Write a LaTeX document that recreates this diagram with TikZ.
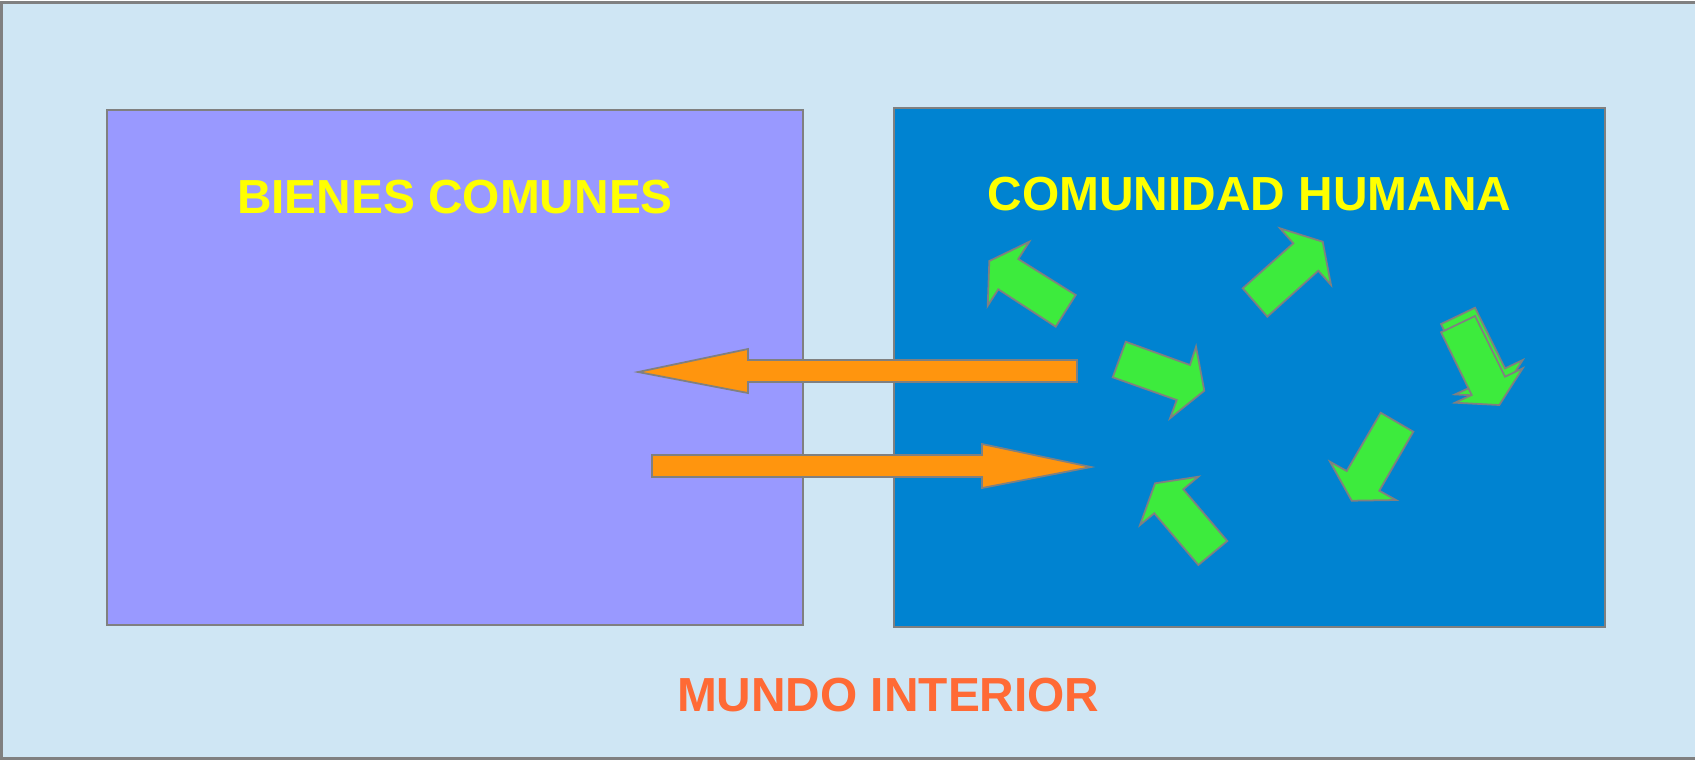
\documentclass[tikz,border=0pt]{standalone}
\usepackage{fontspec}
\setmainfont{Liberation Sans}
\usetikzlibrary{positioning}

\definecolor{fondo}{HTML}{CFE6F4}
\definecolor{lila}{HTML}{9999FF}
\definecolor{azul}{HTML}{0083D1}
\definecolor{verde}{HTML}{3DEB3D}
\definecolor{naranja}{HTML}{FF950E}
\definecolor{gris}{HTML}{808080}
\definecolor{amarillo}{HTML}{FFFF00}
\definecolor{rojizo}{HTML}{FF6A35}

\begin{document}
\begin{tikzpicture}[x=0.01cm, y=-0.01cm,
    caja/.style={draw=gris, line width=0.6pt},
    bloque/.style={draw=gris, line width=0.5pt, line join=miter},
    titulo/.style={font=\fontsize{13.6pt}{16pt}\selectfont\bfseries, inner sep=0pt}]

    \useasboundingbox (0,0) rectangle (1695,760);

    % Mundo interior
    \draw[caja, fill=fondo] (1.5,2.5) rectangle (1720,758.5);

    % Bienes comunes
    \draw[caja, fill=lila] (107,110) rectangle (803,625);

    % Comunidad humana
    \draw[caja, fill=azul] (894,108) rectangle (1605,627);

    % Orange arrows between both boxes
    \draw[bloque, fill=naranja] (638,372) -- (748,349) -- (748,360) -- (1077,360)
        -- (1077,382) -- (748,382) -- (748,393) -- cycle;
    \draw[bloque, fill=naranja] (1091,467) -- (982,488) -- (982,477) -- (652,477)
        -- (652,455) -- (982,455) -- (982,444) -- cycle;

    % Green arrows (people)
    \draw[bloque, fill=verde] (1029.3,241.7) -- (989.3,261) -- (987.7,305.7) -- (998.3,289.3)
        -- (1055.7,326.7) -- (1075.7,295) -- (1018.3,259) -- cycle;
    \draw[bloque, fill=verde] (1280,228.3) -- (1322.7,241.7) -- (1331,285) -- (1318.3,270.7)
        -- (1267.3,316.7) -- (1242.7,288.3) -- (1293.3,243.3) -- cycle;
    \draw[bloque, fill=verde] (1125.7,341.7) -- (1190,365) -- (1196,346.7) -- (1204.3,390.7)
        -- (1170,418.3) -- (1176.7,400) -- (1112.7,377.3) -- cycle;
    \draw[bloque, fill=verde] (1155,483.3) -- (1198.3,476.7) -- (1183.3,489.3) -- (1227.3,541)
        -- (1198.3,565) -- (1154.3,513.3) -- (1140,525) -- cycle;
    \draw[bloque, fill=verde] (1380.7,412.7) -- (1413.3,431.7) -- (1379.3,490.7) -- (1396,500)
        -- (1351.7,500.7) -- (1330,461.7) -- (1346.7,471) -- cycle;
    \foreach \dy in {8.3,0}
        \draw[bloque, fill=verde, yshift=\dy*0.01cm] (1441,332.3) -- (1475,316) -- (1505,376.7)
            -- (1522.7,368.3) -- (1499.3,405) -- (1455,402.7) -- (1471.7,395) -- cycle;

    % Labels
    \node[titulo, text=amarillo] (bienes) at (455,196.7) {BIENES COMUNES};
    \node[titulo, text=amarillo] (comunidad) at (1249.5,194.5) {COMUNIDAD HUMANA};
    \node[titulo, text=rojizo] (mundo) at (888.3,695.5) {MUNDO INTERIOR};

\end{tikzpicture}
\end{document}
